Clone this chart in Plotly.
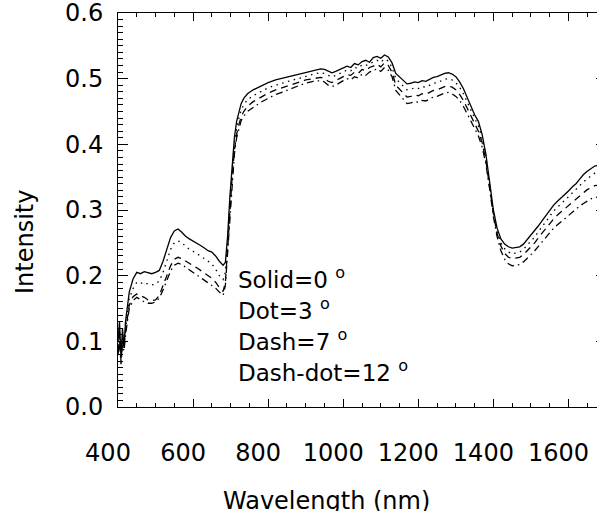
import plotly.graph_objects as go

# Wavelength grid (nm)
wavelength = [
    400, 404, 408, 412, 416, 420,
    430, 440, 450, 460, 470, 480, 490, 500, 510, 520, 530,
    540, 550, 560, 570, 580, 590, 600, 610, 620, 630, 640, 650, 660, 670, 680,
    686, 692, 698, 704, 710, 716, 722, 728, 735, 745,
    760, 780, 800, 820, 840, 860, 880, 900, 920, 940,
    950, 960, 970, 980, 990, 1000, 1010, 1020, 1030, 1040, 1050, 1060, 1070, 1080, 1090, 1100, 1110, 1120, 1130,
    1140, 1150, 1160, 1170, 1180, 1190, 1200, 1210, 1220, 1230, 1240, 1250, 1260, 1270, 1280, 1290, 1300, 1310, 1320, 1330,
    1340, 1350, 1360, 1370, 1380, 1390, 1400, 1410, 1420, 1430, 1440, 1450, 1460,
    1470, 1480, 1490, 1500, 1510, 1520, 1530, 1540, 1550, 1560, 1570, 1580, 1590, 1600, 1610, 1620, 1630, 1640, 1650, 1660, 1670, 1680,
]

solid_0deg = [
    0.10, 0.13, 0.075, 0.12, 0.09, 0.13,
    0.175, 0.195, 0.205, 0.203, 0.206, 0.204, 0.203, 0.205, 0.208, 0.222, 0.24,
    0.258, 0.268, 0.271, 0.266, 0.26, 0.256, 0.253, 0.25, 0.246, 0.242, 0.238, 0.236, 0.23, 0.222, 0.216,
    0.22, 0.26, 0.32, 0.37, 0.41, 0.435, 0.45, 0.462, 0.47, 0.477,
    0.483, 0.489, 0.494, 0.498, 0.501, 0.504, 0.507, 0.51, 0.513, 0.515,
    0.514, 0.511, 0.509, 0.511, 0.514, 0.516, 0.519, 0.517, 0.523, 0.521, 0.526, 0.528, 0.525, 0.532, 0.534, 0.531, 0.536, 0.533, 0.524,
    0.508, 0.503, 0.497, 0.492, 0.493, 0.495, 0.494, 0.497, 0.496, 0.499, 0.502, 0.503, 0.506, 0.508, 0.509, 0.507, 0.503, 0.495, 0.485, 0.472,
    0.458, 0.445, 0.435, 0.415, 0.385, 0.34, 0.3, 0.272, 0.256, 0.248, 0.244, 0.242, 0.243,
    0.244, 0.248, 0.255, 0.262, 0.268, 0.276, 0.284, 0.292, 0.3, 0.307, 0.313, 0.318, 0.324, 0.329, 0.335, 0.34, 0.347, 0.354, 0.359, 0.363, 0.367, 0.368,
]

dot_3deg = [
    0.09, 0.12, 0.08, 0.11, 0.10, 0.12,
    0.165, 0.18, 0.19, 0.188, 0.19, 0.187, 0.186, 0.187, 0.192, 0.205, 0.222,
    0.24, 0.25, 0.253, 0.25, 0.245, 0.24, 0.237, 0.234, 0.23, 0.226, 0.222, 0.218, 0.21, 0.2, 0.194,
    0.205, 0.25, 0.31, 0.36, 0.40, 0.425, 0.44, 0.452, 0.46, 0.468,
    0.474, 0.48, 0.486, 0.49, 0.494, 0.497, 0.5, 0.504, 0.507, 0.509,
    0.508, 0.505, 0.503, 0.505, 0.508, 0.511, 0.513, 0.512, 0.517, 0.516, 0.521, 0.52, 0.523, 0.526, 0.528, 0.525, 0.53, 0.527, 0.517,
    0.5, 0.494, 0.488, 0.483, 0.484, 0.486, 0.485, 0.488, 0.487, 0.49, 0.493, 0.494, 0.497, 0.499, 0.5, 0.498, 0.494, 0.487, 0.477, 0.464,
    0.452, 0.44, 0.428, 0.41, 0.38, 0.338, 0.297, 0.268, 0.25, 0.241, 0.236, 0.233, 0.234,
    0.236, 0.24, 0.246, 0.253, 0.259, 0.267, 0.275, 0.283, 0.291, 0.298, 0.304, 0.309, 0.315, 0.32, 0.326, 0.331, 0.337, 0.343, 0.348, 0.352, 0.356, 0.357,
]

dash_7deg = [
    0.085, 0.11, 0.07, 0.10, 0.09, 0.115,
    0.155, 0.168, 0.172, 0.17, 0.167, 0.163, 0.162, 0.163, 0.17, 0.185, 0.2,
    0.215, 0.225, 0.228, 0.226, 0.222, 0.218, 0.215, 0.212, 0.208, 0.204, 0.2, 0.196, 0.19, 0.182, 0.176,
    0.19, 0.24, 0.30, 0.35, 0.39, 0.415, 0.43, 0.442, 0.45, 0.458,
    0.465, 0.472, 0.478, 0.483, 0.487, 0.491, 0.494, 0.498, 0.5, 0.502,
    0.5, 0.496, 0.494, 0.497, 0.5, 0.504, 0.506, 0.505, 0.51, 0.508, 0.514, 0.512, 0.517, 0.519, 0.522, 0.518, 0.524, 0.52, 0.51,
    0.49, 0.484, 0.477, 0.472, 0.473, 0.475, 0.474, 0.477, 0.476, 0.479, 0.482, 0.483, 0.486, 0.488, 0.489, 0.487, 0.483, 0.476, 0.467, 0.455,
    0.444, 0.432, 0.42, 0.403, 0.375, 0.335, 0.294, 0.264, 0.245, 0.234, 0.228, 0.226, 0.227,
    0.228, 0.232, 0.238, 0.244, 0.25, 0.258, 0.265, 0.273, 0.28, 0.286, 0.292, 0.297, 0.302, 0.307, 0.312, 0.317, 0.322, 0.327, 0.331, 0.334, 0.337, 0.338,
]

dashdot_12deg = [
    0.08, 0.10, 0.065, 0.095, 0.085, 0.11,
    0.15, 0.162, 0.167, 0.163, 0.16, 0.158, 0.158, 0.16, 0.166, 0.178, 0.192,
    0.207, 0.216, 0.219, 0.217, 0.213, 0.209, 0.205, 0.202, 0.198, 0.194, 0.19, 0.186, 0.181, 0.175, 0.17,
    0.185, 0.235, 0.295, 0.345, 0.385, 0.41, 0.425, 0.436, 0.443, 0.45,
    0.456, 0.464, 0.47, 0.476, 0.48, 0.485, 0.489, 0.493, 0.496, 0.497,
    0.495, 0.49, 0.488, 0.49, 0.494, 0.497, 0.5, 0.498, 0.503, 0.501, 0.507, 0.505, 0.51, 0.512, 0.515, 0.511, 0.517, 0.513, 0.503,
    0.482, 0.475, 0.468, 0.462, 0.463, 0.465, 0.464, 0.467, 0.466, 0.469, 0.472, 0.473, 0.476, 0.478, 0.479, 0.477, 0.473, 0.467, 0.458, 0.447,
    0.437, 0.425, 0.413, 0.396, 0.37, 0.332, 0.29, 0.259, 0.238, 0.225, 0.218, 0.215, 0.216,
    0.217, 0.221, 0.226, 0.232, 0.238, 0.245, 0.252, 0.259, 0.266, 0.272, 0.277, 0.282, 0.287, 0.292, 0.297, 0.301, 0.306, 0.31, 0.314, 0.317, 0.319, 0.32,
]

x_ticks = [400, 600, 800, 1000, 1200, 1400, 1600]
y_ticks = [0.0, 0.1, 0.2, 0.3, 0.4, 0.5, 0.6]
legend_lines = ["Solid=0 <sup>o</sup>", "Dot=3 <sup>o</sup>", "Dash=7 <sup>o</sup>", "Dash-dot=12 <sup>o</sup>"]

FONT = "DejaVu Sans"

series = [
    (solid_0deg, "solid"),
    (dot_3deg, "1.5px,4.5px"),
    (dash_7deg, "7px,5px"),
    (dashdot_12deg, "7px,4px,1.5px,4px"),
]

fig = go.Figure()
for vals, dash in series:
    fig.add_trace(go.Scatter(
        x=wavelength, y=vals, mode="lines",
        line=dict(color="black", width=1.3, dash=dash),
        showlegend=False, hoverinfo="skip",
    ))

# The original plot box extends slightly beyond the right edge of the picture
FIG_W, FIG_H = 606, 511
PLOT_L, PLOT_T, PLOT_B = 118, 13, 407
plot_w = FIG_W - PLOT_L
plot_h = PLOT_B - PLOT_T

fig.update_layout(
    width=FIG_W, height=FIG_H,
    margin=dict(l=PLOT_L, r=0, t=PLOT_T, b=FIG_H - PLOT_B, autoexpand=False),
    paper_bgcolor="white", plot_bgcolor="white",
    font=dict(family=FONT, size=24, color="black"),
    showlegend=False,
    xaxis=dict(
        range=[400, 1700], tickvals=x_ticks, ticktext=[str(v) for v in x_ticks],
        ticks="inside", ticklen=8, tickwidth=1, tickcolor="black",
        minor=dict(dtick=50, tick0=400, ticks="inside", ticklen=4, tickcolor="black"),
        showline=True, linecolor="black", linewidth=1, mirror="ticks",
        showgrid=False, zeroline=False, ticklabelstandoff=24, ticklabelshift=-10,
        ticklabeloverflow="allow", automargin=False,
        tickfont=dict(family=FONT, size=24),
    ),
    yaxis=dict(
        range=[0, 0.6], tickvals=y_ticks, tickformat=".1f",
        ticks="inside", ticklen=10, tickwidth=1, tickcolor="black",
        minor=dict(dtick=0.01, tick0=0, ticks="inside", ticklen=5, tickcolor="black"),
        showline=True, linecolor="black", linewidth=1, mirror="ticks",
        showgrid=False, zeroline=False, ticklabelstandoff=9,
        ticklabeloverflow="allow", automargin=False,
        tickfont=dict(family=FONT, size=24),
    ),
)

def px_to_paper_x(px):
    return (px - PLOT_L) / plot_w

def px_to_paper_y(py):
    return (PLOT_B - py) / plot_h

legend_px_y = [278, 309, 340, 371]
for txt, py in zip(legend_lines, legend_px_y):
    fig.add_annotation(
        text=txt, xref="paper", yref="paper", x=px_to_paper_x(236), y=px_to_paper_y(py),
        xanchor="left", yanchor="middle", showarrow=False,
        font=dict(family=FONT, size=23, color="black"),
    )

fig.add_annotation(
    text="Intensity", xref="paper", yref="paper", x=px_to_paper_x(25), y=px_to_paper_y(242),
    xanchor="center", yanchor="middle", textangle=-90, showarrow=False,
    font=dict(family=FONT, size=24, color="black"),
)
fig.add_annotation(
    text="Wavelength (nm)", xref="paper", yref="paper", x=px_to_paper_x(326), y=px_to_paper_y(501),
    xanchor="center", yanchor="middle", showarrow=False,
    font=dict(family=FONT, size=24, color="black"),
)

# remove the default page margin so the figure starts at the window's corner
fig.write_html(
    "out.html",
    config={"displayModeBar": False},
    post_script="document.body.style.margin='0';document.body.style.overflow='hidden';document.documentElement.style.overflow='hidden';",
)
